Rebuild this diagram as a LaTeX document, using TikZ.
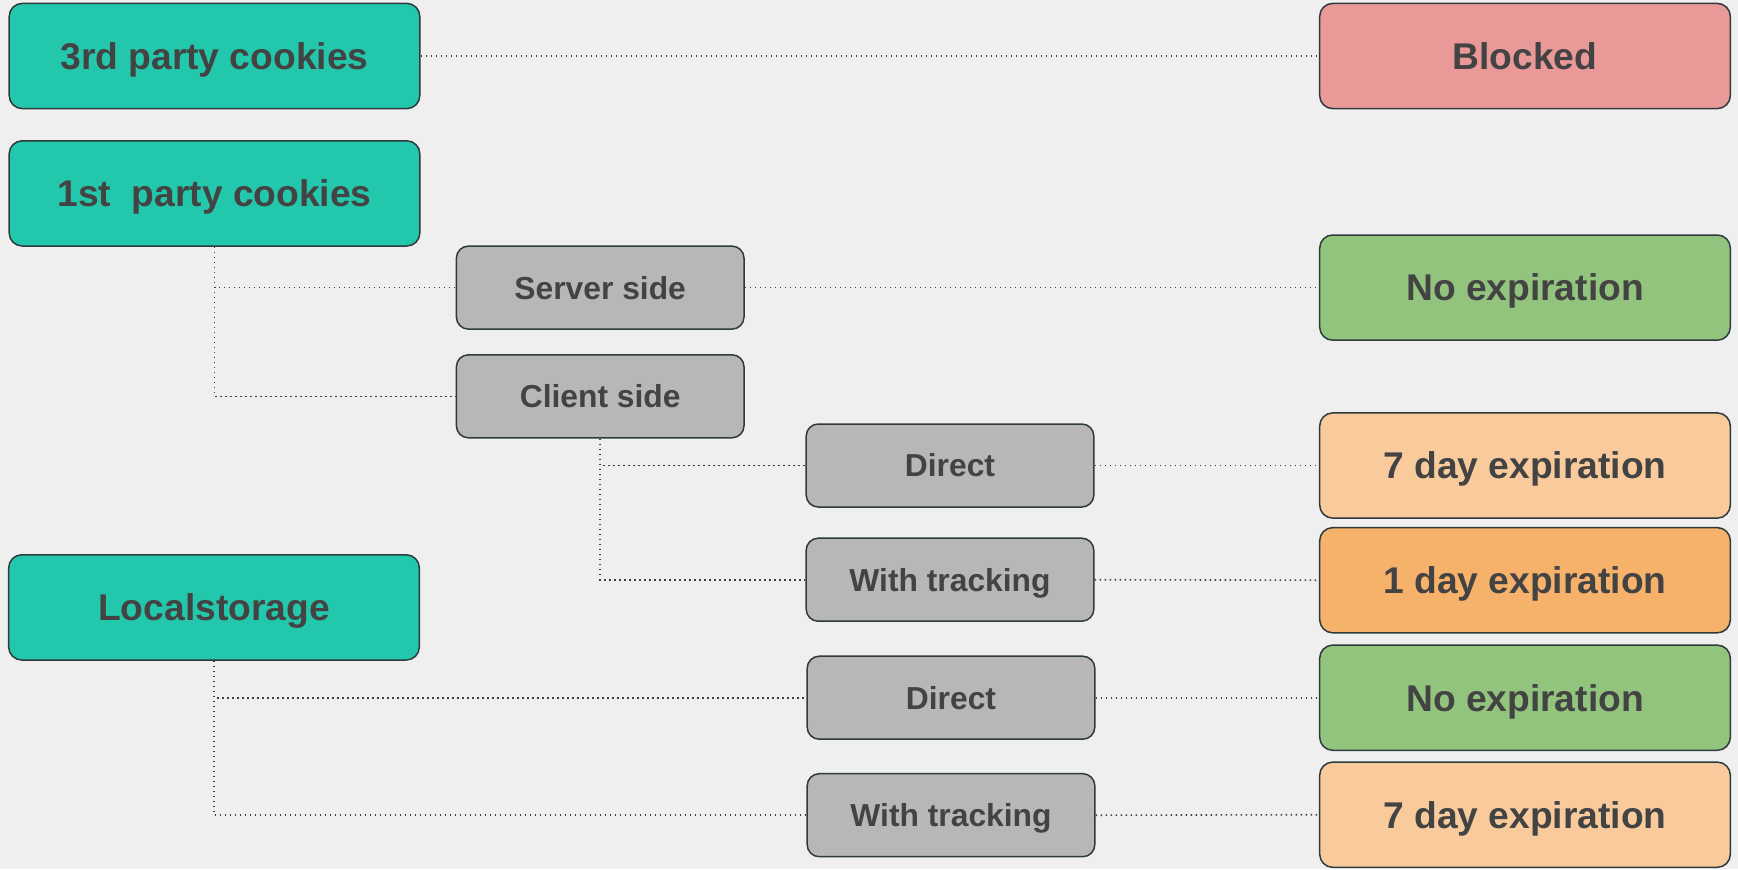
\documentclass[tikz,border=0pt]{standalone}
\usepackage{fontspec}
\setmainfont{Liberation Sans}
\definecolor{bgcol}{HTML}{EFEFEF}
\definecolor{edgecol}{HTML}{2F3A3E}
\definecolor{txtcol}{HTML}{434343}
\definecolor{linkcol}{HTML}{3A3F44}
\definecolor{tealcol}{HTML}{23C8AC}
\definecolor{greycol}{HTML}{B7B7B7}
\definecolor{redcol}{HTML}{EA9999}
\definecolor{greencol}{HTML}{93C47D}
\definecolor{peachcol}{HTML}{F9CB9C}
\definecolor{orangecol}{HTML}{F6B26B}

\begin{document}
\begin{tikzpicture}[x=0.5pt,y=-0.5pt,
  bigbox/.style={draw=edgecol, line width=0.75pt, rounded corners=6.5pt,
    minimum width=205.3pt, minimum height=52.6pt, inner sep=0pt, text=txtcol,
    text height=13.3pt, text depth=0pt,
    font=\fontsize{18.6}{22}\selectfont\bfseries},
  smallbox/.style={draw=edgecol, line width=0.75pt, rounded corners=6pt,
    fill=greycol, minimum width=143.8pt, minimum height=41.5pt, inner sep=0pt,
    text=txtcol, text height=11.4pt, text depth=0pt,
    font=\fontsize{15.9}{19}\selectfont\bfseries},
  link/.style={draw=linkcol, line width=0.8pt, dash pattern=on 0.8pt off 1.7pt}]
\fill[bgcol] (0,0) rectangle (1738,869);
\useasboundingbox (0,0) rectangle (1738,869);
% left column
\node[bigbox, fill=tealcol] (third) at (214.500,56.000) {3rd party cookies};
\node[bigbox, fill=tealcol] (first) at (214.500,193.400) {1st\ \ party cookies};
\node[bigbox, fill=tealcol] (local) at (214.000,607.400) {Localstorage};
% middle columns
\node[smallbox] (server) at (600.200,287.600) {Server side};
\node[smallbox] (client) at (600.200,396.300) {Client side};
\node[smallbox] (directa) at (950.000,465.500) {Direct};
\node[smallbox] (tracka) at (950.000,579.700) {With tracking};
\node[smallbox] (directb) at (951.000,697.700) {Direct};
\node[smallbox] (trackb) at (951.000,815.200) {With tracking};
% right column
\node[bigbox, fill=redcol] (blocked) at (1525.000,56.000) {Blocked};
\node[bigbox, fill=greencol] (noexpa) at (1525.000,287.600) {No expiration};
\node[bigbox, fill=peachcol] (sevena) at (1525.000,465.500) {7 day expiration};
\node[bigbox, fill=orangecol] (oneday) at (1525.000,580.200) {1 day expiration};
\node[bigbox, fill=greencol] (noexpb) at (1525.000,697.700) {No expiration};
\node[bigbox, fill=peachcol] (sevenb) at (1525.000,814.700) {7 day expiration};
% connectors
\draw[link] (third.east) -- (blocked.west);
\draw[link] (first.south) |- (server.west);
\draw[link] (first.south) |- (client.west);
\draw[link] (server.east) -- (noexpa.west);
\draw[link] (client.south) |- (directa.west);
\draw[link] (client.south) |- (tracka.west);
\draw[link] (directa.east) -- (sevena.west);
\draw[link] (tracka.east) -- (oneday.west);
\draw[link] (local.south) |- (directb.west);
\draw[link] (local.south) |- (trackb.west);
\draw[link] (directb.east) -- (noexpb.west);
\draw[link] (trackb.east) -- (sevenb.west);
\end{tikzpicture}
\end{document}
